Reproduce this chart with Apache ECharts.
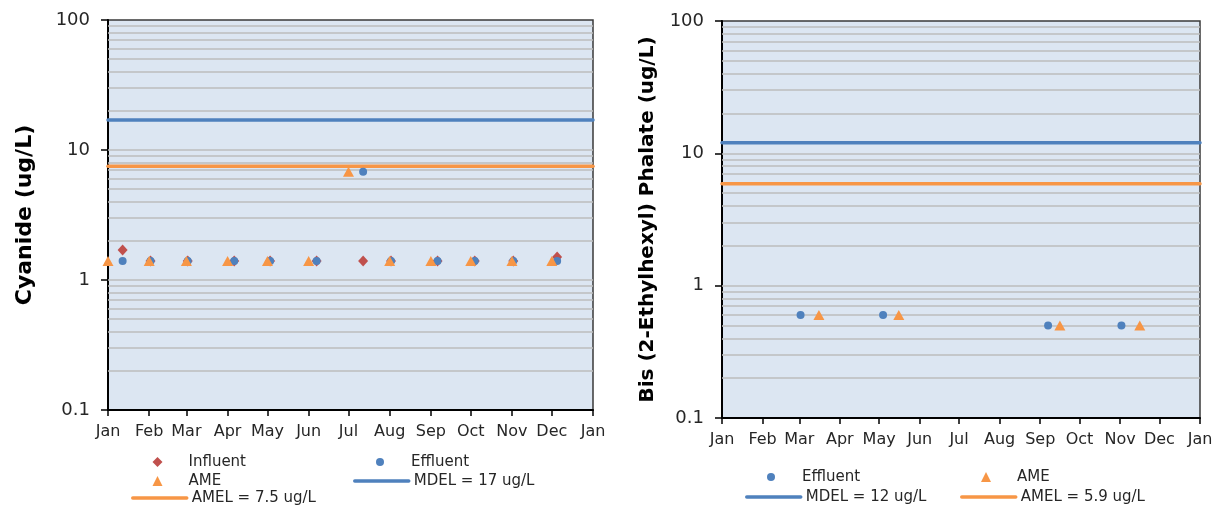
<!DOCTYPE html>
<html>
<head>
<meta charset="utf-8">
<script src="https://cdn.jsdelivr.net/npm/echarts@6/dist/echarts.min.js"></script>
<style>
html,body{margin:0;padding:0;background:#fff;}
#c1{position:absolute;left:0;top:0;width:613px;height:510px;}
#c2{position:absolute;left:613px;top:0;width:614px;height:510px;}
</style>
</head>
<body>
<div id="c1"></div>
<div id="c2"></div>
<script>
// ---- axis tick labels ----
const monthLabels = ['Jan','Feb','Mar','Apr','May','Jun','Jul','Aug','Sep','Oct','Nov','Dec','Jan'];
const monthStartDays = [0,31,59,90,120,151,181,212,243,273,304,334,365];
const yTickValues = [0.1, 1, 10, 100];
const gridLineValues = [0.2,0.3,0.4,0.5,0.6,0.7,0.8,0.9,1,2,3,4,5,6,7,8,9,10,20,30,40,50,60,70,80,90];

// ---- Left chart: Cyanide (x = day of year) ----
const cyInfluentDays   = [11,32,60,95,122,157,192,213,248,276,305,338];
const cyInfluentValues = [1.7,1.4,1.4,1.4,1.4,1.4,1.4,1.4,1.4,1.4,1.4,1.5];
const cyEffluentDays   = [11,32,60,95,122,157,192,213,248,276,305,338];
const cyEffluentValues = [1.4,1.4,1.4,1.4,1.4,1.4,6.8,1.4,1.4,1.4,1.4,1.4];
const cyAmeDays        = [0,31,59,90,120,151,181,212,243,273,304,334];
const cyAmeValues      = [1.4,1.4,1.4,1.4,1.4,1.4,6.8,1.4,1.4,1.4,1.4,1.4];
const cyMdel = 17;
const cyAmel = 7.5;

// ---- Right chart: Bis (2-Ethylhexyl) Phalate ----
const bpEffluentDays   = [60,123,249,305];
const bpEffluentValues = [0.6,0.6,0.5,0.5];
const bpAmeDays        = [74,135,258,319];
const bpAmeValues      = [0.6,0.6,0.5,0.5];
const bpMdel = 12;
const bpAmel = 5.9;

const BLUE = '#4F81BD', ORANGE = '#F79646', RED = '#C0504D';
const FONT = 'DejaVu Sans';
const TXT = '#262626';

function pairs(xs, ys){ return xs.map((x,i)=>[x, ys[i]]); }
function hline(v){ return [[monthStartDays[0], v],[monthStartDays[monthStartDays.length-1], v]]; }

// marker legend: icon centred at cx, text starts ~31px after centre
function markerLegend(name, cx, cy, size){
  return {
    data:[name], left:cx - size/2, top:cy - 9, orient:'horizontal', padding:0, itemGap:0,
    itemWidth:size, itemHeight:size, selectedMode:false, symbolKeepAspect:true,
    textStyle:{fontFamily:FONT, fontSize:15, color:TXT, lineHeight:18, padding:[0,0,0,26 - size/2]}
  };
}
function lineLegend(name, left, cy){
  return {
    data:[name], left:left, top:cy - 9, orient:'horizontal', padding:0, itemGap:0,
    itemWidth:54, itemHeight:9, selectedMode:false,
    itemStyle:{opacity:0},
    lineStyle:{width:3.5, cap:'round'},
    textStyle:{fontFamily:FONT, fontSize:15, color:TXT, lineHeight:18}
  };
}

function makeOption(cfg){
  const series = [
    { name:'_grid', type:'line', data:[], silent:true,
      markLine:{ silent:true, symbol:['none','none'], z:1, animation:false,
        label:{show:false}, lineStyle:{color:'#BDBDBD', width:1.6, type:'solid'},
        data: gridLineValues.map(v=>({yAxis:v})) } }
  ];
  cfg.scatter.forEach(s=>{
    series.push({ name:s.name, type:'scatter', data:s.data, symbol:s.symbol,
      symbolSize:s.size, itemStyle:{color:s.color, opacity:1}, z:s.z, animation:false });
  });
  cfg.lines.forEach(l=>{
    series.push({ name:l.name, type:'line', data:l.data, symbol:'none', showSymbol:false,
      lineStyle:{color:l.color, width:3.5, cap:'round'}, itemStyle:{color:l.color}, z:3, animation:false, silent:true });
  });
  return {
    animation:false,
    legend: cfg.legends,
    grid:{ left:cfg.grid.left, top:cfg.grid.top, width:cfg.grid.width, height:cfg.grid.height,
      show:true, backgroundColor:'#DCE6F2', borderColor:'#3A3A3A', borderWidth:1.5 },
    xAxis:{ type:'value', min:0, max:365,
      axisLine:{show:true, onZero:false, lineStyle:{color:'#000', width:2}},
      axisTick:{show:true, customValues:monthStartDays, length:6, lineStyle:{color:'#000', width:1.5}},
      axisLabel:{ customValues:monthStartDays, margin:14, fontFamily:FONT, fontSize:16, color:TXT,
        formatter:(v)=>{ const i = monthStartDays.indexOf(Math.round(v)); return i>=0 ? monthLabels[i] : ''; } },
      splitLine:{show:false}
    },
    yAxis:{ type:'log', logBase:10, min:0.1, max:100, interval:1,
      name:cfg.yName, nameLocation:'middle', nameGap:cfg.nameGap,
      nameTextStyle:{fontFamily:FONT, fontSize:cfg.nameSize, fontWeight:'bold', color:'#000'},
      axisLine:{show:true, lineStyle:{color:'#000', width:2}},
      axisTick:{show:true, length:7, lineStyle:{color:'#000', width:1.5}},
      axisLabel:{ margin:18, fontFamily:FONT, fontSize:18, color:TXT,
        formatter:(v)=>{ let best=yTickValues[0]; yTickValues.forEach(t=>{ if(Math.abs(Math.log10(t)-Math.log10(v))<Math.abs(Math.log10(best)-Math.log10(v))) best=t;}); return String(best); } },
      splitLine:{show:false}
    },
    series: series
  };
}

const c1 = echarts.init(document.getElementById('c1'), null, {renderer:'canvas'});
c1.setOption(makeOption({
  grid:{left:108, top:20, width:485, height:390},
  yName:'Cyanide (ug/L)', nameGap:72, nameSize:22,
  scatter:[
    {name:'Influent', data:pairs(cyInfluentDays, cyInfluentValues), symbol:'diamond', size:[10,11], color:RED, z:3},
    {name:'Effluent', data:pairs(cyEffluentDays, cyEffluentValues), symbol:'circle', size:8, color:BLUE, z:4},
    {name:'AME', data:pairs(cyAmeDays, cyAmeValues), symbol:'triangle', size:[11,10], color:ORANGE, z:5}
  ],
  lines:[
    {name:'MDEL = 17 ug/L', data:hline(cyMdel), color:BLUE},
    {name:'AMEL = 7.5 ug/L', data:hline(cyAmel), color:ORANGE}
  ],
  legends:[
    markerLegend('Influent', 157.5, 462, 10),
    markerLegend('Effluent', 380, 462, 8),
    markerLegend('AME', 157.5, 481, 10),
    lineLegend('MDEL = 17 ug/L', 353, 481),
    lineLegend('AMEL = 7.5 ug/L', 131, 498)
  ]
}));

const c2 = echarts.init(document.getElementById('c2'), null, {renderer:'canvas'});
c2.setOption(makeOption({
  grid:{left:109, top:21, width:478, height:397},
  yName:'Bis (2-Ethylhexyl) Phalate (ug/L)', nameGap:64, nameSize:20,
  scatter:[
    {name:'Effluent', data:pairs(bpEffluentDays, bpEffluentValues), symbol:'circle', size:8, color:BLUE, z:4},
    {name:'AME', data:pairs(bpAmeDays, bpAmeValues), symbol:'triangle', size:[11,10], color:ORANGE, z:5}
  ],
  lines:[
    {name:'MDEL = 12 ug/L', data:hline(bpMdel), color:BLUE},
    {name:'AMEL = 5.9 ug/L', data:hline(bpAmel), color:ORANGE}
  ],
  legends:[
    markerLegend('Effluent', 158, 477, 8),
    markerLegend('AME', 373, 477, 10),
    lineLegend('MDEL = 12 ug/L', 132, 497),
    lineLegend('AMEL = 5.9 ug/L', 347, 497)
  ]
}));
</script>
</body>
</html>
